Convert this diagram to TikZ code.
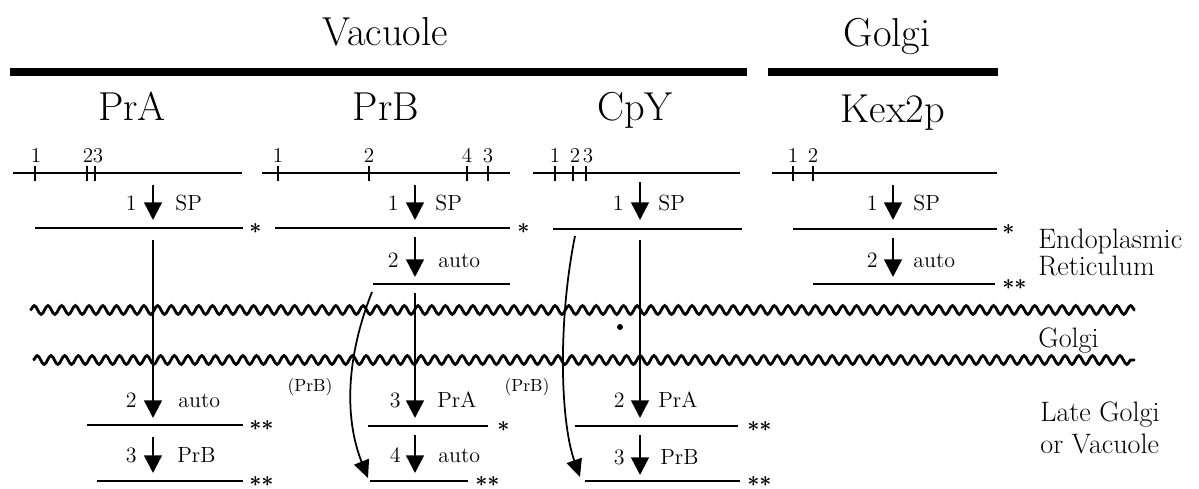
\documentclass[tikz,border=0pt]{standalone}
\usetikzlibrary{arrows.meta, decorations.pathmorphing}

\begin{document}
\begin{tikzpicture}[x=0.02cm, y=-0.02cm,
    bar/.style={line width=5pt},
    chain/.style={line width=1.4pt},
    tick/.style={line width=1pt},
    cleave/.style={line width=1.4pt, -{Triangle[width=10pt, length=10pt]}},
    route/.style={line width=1pt, -{Triangle[width=9pt, length=10pt]}},
    membrane/.style={line width=1.6pt, decorate, decoration={snake, segment length=7.8pt, amplitude=2.5pt}},
    title/.style={font=\fontsize{23}{27}\selectfont, anchor=base},
    place/.style={font=\fontsize{16}{19}\selectfont, anchor=base west, align=left, inner sep=0pt},
    site/.style={font=\fontsize{12}{14}\selectfont, anchor=base, inner sep=0pt},
    numlab/.style={font=\fontsize{12.5}{15}\selectfont, anchor=base east, inner sep=0pt},
    enzlab/.style={font=\fontsize{12.5}{15}\selectfont, anchor=base west, inner sep=0pt},
    modif/.style={font=\fontsize{13}{15}\selectfont\boldmath, anchor=west, inner sep=0pt}]

    \useasboundingbox (0,0) rectangle (1199,488);

    % Compartments of the mature proteins
    \node[title] (vac) at (385,45) {Vacuole};
    \node[title] (gol) at (887,46) {Golgi};
    \draw[bar] (10,72) -- (747,72);
    \draw[bar] (768,72) -- (998,72);
    \node[title] (prA) at (132,120) {PrA};
    \node[title] (prB) at (386,120) {PrB};
    \node[title] (cpY) at (635,120) {CpY};
    \node[title] (kex) at (893,122) {Kex2p};

    % Compartments on the right
    \node[place, font=\fontsize{16}{14.2}\selectfont, anchor=north west] (er) at (1038,229) {Endoplasmic\\Reticulum};
    \node[place] (golgi) at (1038,347) {Golgi};
    \node[place, font=\fontsize{16}{18.7}\selectfont, anchor=north west] (late) at (1040,401) {Late Golgi\\or Vacuole};

    % Golgi membranes
    \draw[membrane] (30,310) -- (1135,310);
    \draw[membrane] (33,360) -- (1135,360);

    % PrA
    \draw[chain] (13,173) -- (242,173);
    \foreach \x/\lx/\l in {35/36/1, 87/88/2, 95/98/3} {
        \draw[tick] (\x,166) -- (\x,181);
        \node[site] (pa-t\l) at (\lx,162) {\l};
    }
    \coordinate (pa1) at (153,185);
    \coordinate (pa2) at (153,220);
    \draw[cleave] (pa1) -- (pa2);
    \node[numlab] (pa-n1) at (137,210) {1};
    \node[enzlab] (pa-e1) at (175,210) {SP};
    \draw[chain] (35,228) -- (243,228);
    \node[modif] (pa-m1) at (249,229) {$*$};

    \coordinate (pa3) at (153,240);
    \coordinate (pa4) at (153,418);
    \draw[cleave] (pa3) -- (pa4);
    \node[numlab] (pa-n2) at (137,407) {2};
    \node[enzlab] (pa-e2) at (178,407) {auto};
    \draw[chain] (87,425) -- (243,425);
    \node[modif] (pa-m2) at (249,426) {$**$};

    \coordinate (pa5) at (153,437);
    \coordinate (pa6) at (153,473);
    \draw[cleave] (pa5) -- (pa6);
    \node[numlab] (pa-n3) at (137,462) {3};
    \node[enzlab] (pa-e3) at (177,462) {PrB};
    \draw[chain] (97,481) -- (243,481);
    \node[modif] (pa-m3) at (249,482) {$**$};

    % PrB
    \draw[chain] (262,173) -- (510,173);
    \foreach \x/\l in {278/1, 369/2, 467/4, 488/3} {
        \draw[tick] (\x,166) -- (\x,181);
        \node[site] (pb-t\l) at (\x,162) {\l};
    }
    \coordinate (pb1) at (415,185);
    \coordinate (pb2) at (415,220);
    \draw[cleave] (pb1) -- (pb2);
    \node[numlab] (pb-n1) at (399,210) {1};
    \node[enzlab] (pb-e1) at (435,210) {SP};
    \draw[chain] (275,228) -- (510,228);
    \node[modif] (pb-m1) at (517,229) {$*$};

    \coordinate (pb3) at (415,237);
    \coordinate (pb4) at (415,277);
    \draw[cleave] (pb3) -- (pb4);
    \node[numlab] (pb-n2) at (399,267) {2};
    \node[enzlab] (pb-e2) at (438,267) {auto};
    \draw[chain] (373,284) -- (510,284);

    \coordinate (pb5) at (415,293);
    \coordinate (pb6) at (415,418);
    \draw[cleave] (pb5) -- (pb6);
    \node[numlab] (pb-n3) at (401,407) {3};
    \node[enzlab] (pb-e3) at (437,407) {PrA};
    \draw[chain] (368,426) -- (488,426);
    \node[modif] (pb-m2) at (497,427) {$*$};

    \coordinate (pb7) at (415,435);
    \coordinate (pb8) at (415,473);
    \draw[cleave] (pb7) -- (pb8);
    \node[numlab] (pb-n4) at (401,462) {4};
    \node[enzlab] (pb-e4) at (438,462) {auto};
    \draw[chain] (370,481) -- (468,481);
    \node[modif] (pb-m3) at (475,482) {$**$};

    % PrB made by PrB itself
    \coordinate (pb9) at (372,292);
    \coordinate (pb10) at (368,478);
    \draw[route] (pb9) .. controls (345,360) and (345,420) .. (pb10);
    \node[font=\fontsize{10}{12}\selectfont] (pb-r) at (310,387) {(PrB)};

    % CpY
    \draw[chain] (533,173) -- (740,173);
    \foreach \x/\lx/\l in {555/555/1, 573/575/2, 586/588/3} {
        \draw[tick] (\x,166) -- (\x,181);
        \node[site] (cy-t\l) at (\lx,162) {\l};
    }
    \coordinate (cy1) at (640,182);
    \coordinate (cy2) at (640,220);
    \draw[cleave] (cy1) -- (cy2);
    \node[numlab] (cy-n1) at (624,210) {1};
    \node[enzlab] (cy-e1) at (658,210) {SP};
    \draw[chain] (553,229) -- (742,229);

    \coordinate (cy3) at (640,240);
    \coordinate (cy4) at (640,418);
    \draw[cleave] (cy3) -- (cy4);
    \fill (620,327) circle (3);
    \node[numlab] (cy-n2) at (625,407) {2};
    \node[enzlab] (cy-e2) at (658,407) {PrA};
    \draw[chain] (575,426) -- (738,426);
    \node[modif] (cy-m1) at (747,427) {$**$};

    \coordinate (cy5) at (640,435);
    \coordinate (cy6) at (640,475);
    \draw[cleave] (cy5) -- (cy6);
    \node[numlab] (cy-n3) at (625,464) {3};
    \node[enzlab] (cy-e3) at (660,464) {PrB};
    \draw[chain] (585,481) -- (740,481);
    \node[modif] (cy-m2) at (747,482) {$**$};

    % CpY made by PrB
    \coordinate (cy7) at (575,236);
    \coordinate (cy8) at (580,477);
    \draw[route] (cy7) .. controls (558,320) and (560,420) .. (cy8);
    \node[font=\fontsize{10}{12}\selectfont] (cy-r) at (527,387) {(PrB)};

    % Kex2p
    \draw[chain] (772,173) -- (997,173);
    \foreach \x/\l in {793/1, 813/2} {
        \draw[tick] (\x,166) -- (\x,181);
        \node[site] (kx-t\l) at (\x,162) {\l};
    }
    \coordinate (kx1) at (893,185);
    \coordinate (kx2) at (893,220);
    \draw[cleave] (kx1) -- (kx2);
    \node[numlab] (kx-n1) at (878,210) {1};
    \node[enzlab] (kx-e1) at (913,210) {SP};
    \draw[chain] (793,229) -- (997,229);
    \node[modif] (kx-m1) at (1002,230) {$*$};

    \coordinate (kx3) at (893,238);
    \coordinate (kx4) at (893,277);
    \draw[cleave] (kx3) -- (kx4);
    \node[numlab] (kx-n2) at (878,267) {2};
    \node[enzlab] (kx-e2) at (913,267) {auto};
    \draw[chain] (813,284) -- (995,284);
    \node[modif] (kx-m2) at (1002,285) {$**$};

\end{tikzpicture}
\end{document}
